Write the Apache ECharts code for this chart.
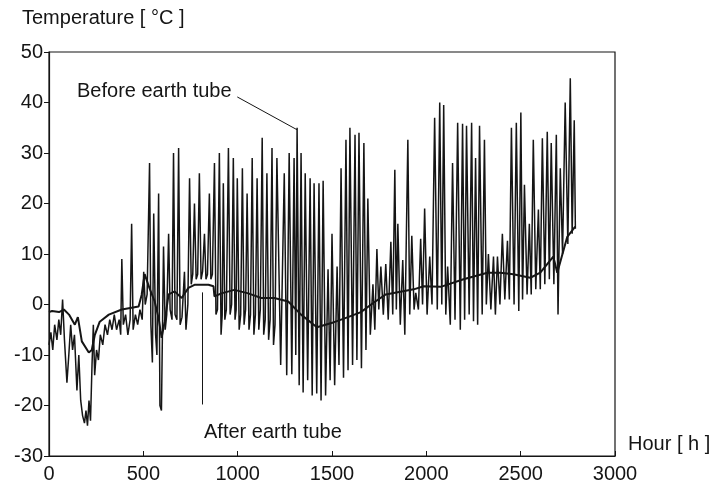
<!DOCTYPE html>
<html>
<head>
<meta charset="utf-8">
<script src="https://cdn.jsdelivr.net/npm/echarts@6/dist/echarts.min.js"></script>
<style>
html, body { margin: 0; padding: 0; background: #fff; }
#chart { width: 716px; height: 487px; }
</style>
</head>
<body>
<div id="chart"></div>
<script>
// [hour, temperature °C]
var beforeTube = [
    [0,-8],[10,-5.5],[20,-9],[30,-4],[42,-7],[52,-3],[62,-6],[72,1],[82,-7],[95,-15.5],
    [105,-10],[115,-4],[125,-9],[135,-6],[148,-17],[158,-10],[168,-19],[178,-22],[188,-23.5],[196,-21],
    [204,-24],[212,-19],[220,-23],[228,-12],[235,-4],[242,-14],[252,-9],[262,-11],[272,-6],[285,-8],
    [297,-4],[310,-6],[322,-3],[334,-5],[346,-2],[358,-5],[372,-3],[380,-6],[386,9],[394,-4],
    [406,-2],[418,-6],[430,-3],[438,16],[446,-5],[458,-2],[470,-4],[482,-1],[494,-3],[502,6.5],
    [510,0],[520,2],[533,28],[540,-4],[548,-11.5],[555,18],[565,-6],[572,-10],[581,22],[588,-20],
    [596,-21],[607,11.5],[616,-5],[624,-2],[634,14],[642,-1],[652,-3],[660,30],[668,-2],[678,-3],
    [687,31],[695,-4],[705,-2.5],[718,6.5],[726,-5],[736,0],[745,25],[754,4],[762,6],[771,20],
    [780,5],[788,6],[797,26],[806,5],[814,6.5],[824,14],[832,5],[840,6],[850,22],[858,5],
    [866,6],[877,28],[885,-2],[893,-1],[903,30],[912,-6],[918,-2],[924,24],[932,-3],[940,-1],
    [951,31],[960,-2],[968,0],[977,29],[986,-3],[992,-1],[998,25],[1008,-5],[1016,-2],[1025,27],
    [1034,-4],[1042,-1],[1050,22],[1060,-5],[1068,-2],[1077,29],[1086,-6],[1094,-2],[1103,25],[1112,-5],
    [1120,-1],[1130,33],[1138,-6],[1146,-3],[1155,26],[1164,-7],[1172,-3],[1182,31],[1190,-8],[1198,-4],
    [1208,29],[1228,-12],[1247,26],[1260,-14],[1273,30],[1287,-13.8],[1299,29],[1308,-10],[1315,35],[1326,-16],
    [1336,30],[1347,-17.4],[1358,26],[1371,-15],[1384,25],[1395,-18],[1405,24],[1419,-17.6],[1431,24],[1442,-19],
    [1453,24.5],[1466,-18],[1479,7],[1490,-15],[1500,14],[1514,-16],[1527,7.5],[1537,-12],[1548,27],[1561,-14.5],
    [1574,32.6],[1585,-13],[1595,35],[1609,-12],[1622,33.6],[1632,-11],[1643,34],[1656,-12.6],[1669,32],[1680,-9],
    [1690,21],[1703,-6],[1717,4],[1727,-5],[1738,11],[1748,-1],[1759,7.5],[1772,-2],[1785,8],[1798,-3],
    [1812,12.4],[1822,-2],[1833,26.7],[1841,-1],[1849,16],[1862,-4],[1875,8.8],[1886,-6],[1902,32.6],[1912,-2],
    [1923,13.6],[1935,-1],[1944,2.3],[1958,-1],[1970,13],[1980,0],[1991,19],[2004,-2],[2018,9.5],[2030,0],
    [2044,37],[2058,-1],[2071,40],[2082,0],[2092,39.5],[2103,-2],[2113,7.5],[2127,-4],[2139,28],[2152,-3],
    [2166,36],[2180,-5],[2192,35.8],[2203,-3],[2213,35.4],[2227,-2],[2240,36],[2250,-3.3],[2261,29],[2272,-4],
    [2282,35.4],[2296,-2],[2308,32.6],[2318,0],[2329,10],[2342,-1],[2356,9.5],[2366,-2],[2377,9.5],[2390,0],
    [2403,14],[2416,1],[2430,12.6],[2440,1],[2451,35],[2465,0],[2477,36],[2490,-1.3],[2501,38],[2510,1],
    [2520,23.7],[2534,2],[2546,16],[2556,2],[2567,32.6],[2580,3],[2594,18.8],[2604,3],[2615,32.9],[2628,4],
    [2641,34.2],[2652,5],[2662,32],[2676,4],[2689,33.6],[2698,-2],[2710,27],[2722,10],[2736,40],[2750,12],
    [2763,44.8],[2773,14],[2784,36.5],[2790,15]
];

var afterTube = [
    [0,-1.5],[16,-1.3],[53,-1.5],[79,-1],[106,-2],[137,-4],[153,-2.5],[174,-7.3],[211,-9.5],[227,-9],
    [243,-6],[269,-3.4],[317,-2],[386,-1],[475,-0.4],[491,1.9],[507,6],[533,3.2],[560,0.6],[581,-2.7],
    [597,-6.6],[613,-3.4],[634,2],[666,2.6],[703,1.3],[739,3.3],[771,3.9],[845,3.9],[872,3.6],[877,1.6],
    [914,2.2],[982,2.9],[1056,2.2],[1125,1.3],[1194,1.3],[1268,0.6],[1336,-2],[1420,-4.5],[1511,-3.5],[1585,-2.5],
    [1653,-1.5],[1722,0.4],[1785,2],[1933,3],[1986,3.6],[2076,3.5],[2197,5],[2324,6.3],[2393,6.3],[2461,6],
    [2551,5.3],[2604,6.3],[2673,9.5],[2694,6.3],[2747,13.4],[2789,15.4]
];

// leader lines of the two notes, in data units
var beforeLeader = [[998, 41.1], [1315, 34.6]];
var afterLeader = [[813, 2.4], [813, -19.8]];

var ink = '#151515';
var font = 'Liberation Sans, Arial, Helvetica, sans-serif';

var chart = echarts.init(document.getElementById('chart'), null, {renderer: 'canvas'});
chart.setOption({
    animation: false,
    backgroundColor: '#fff',
    grid: {
        left: 49, right: 101, top: 52, bottom: 31,
        show: true, borderColor: ink, borderWidth: 1.2
    },
    xAxis: {
        type: 'value', min: 0, max: 3000, interval: 500,
        axisLine: {show: true, onZero: false, lineStyle: {color: ink, width: 1.2}},
        axisTick: {show: true, inside: true, length: 5, lineStyle: {color: ink}},
        axisLabel: {
            color: ink, fontSize: 20, fontFamily: font, margin: 8,
            formatter: function (v) { return String(v); }
        },
        splitLine: {show: false}
    },
    yAxis: {
        type: 'value', min: -30, max: 50, interval: 10,
        axisLine: {show: true, onZero: false, lineStyle: {color: ink, width: 1.2}},
        axisTick: {show: true, length: 5, lineStyle: {color: ink}},
        axisLabel: {color: ink, fontSize: 20, fontFamily: font, margin: 6},
        splitLine: {show: false}
    },
    graphic: [
        {type: 'text', left: 22, top: 8, style: {text: 'Temperature [ °C ]', font: '20px ' + font, fill: ink}},
        {type: 'text', left: 77, top: 81, style: {text: 'Before earth tube', font: '20px ' + font, fill: ink}},
        {type: 'text', left: 204, top: 422, style: {text: 'After earth tube', font: '20px ' + font, fill: ink}},
        {type: 'text', left: 628, top: 434, style: {text: 'Hour [ h ]', font: '20px ' + font, fill: ink}}
    ],
    series: [
        {
            name: 'Before earth tube',
            type: 'line',
            data: beforeTube,
            showSymbol: false,
            lineStyle: {color: ink, width: 1.5},
            markLine: {
                silent: true, symbol: 'none', label: {show: false},
                lineStyle: {color: ink, width: 1, type: 'solid'},
                data: [[{coord: beforeLeader[0]}, {coord: beforeLeader[1]}]]
            }
        },
        {
            name: 'After earth tube',
            type: 'line',
            data: afterTube,
            showSymbol: false,
            lineStyle: {color: ink, width: 2},
            markLine: {
                silent: true, symbol: 'none', label: {show: false},
                lineStyle: {color: ink, width: 1, type: 'solid'},
                data: [[{coord: afterLeader[0]}, {coord: afterLeader[1]}]]
            }
        }
    ]
});
</script>
</body>
</html>
